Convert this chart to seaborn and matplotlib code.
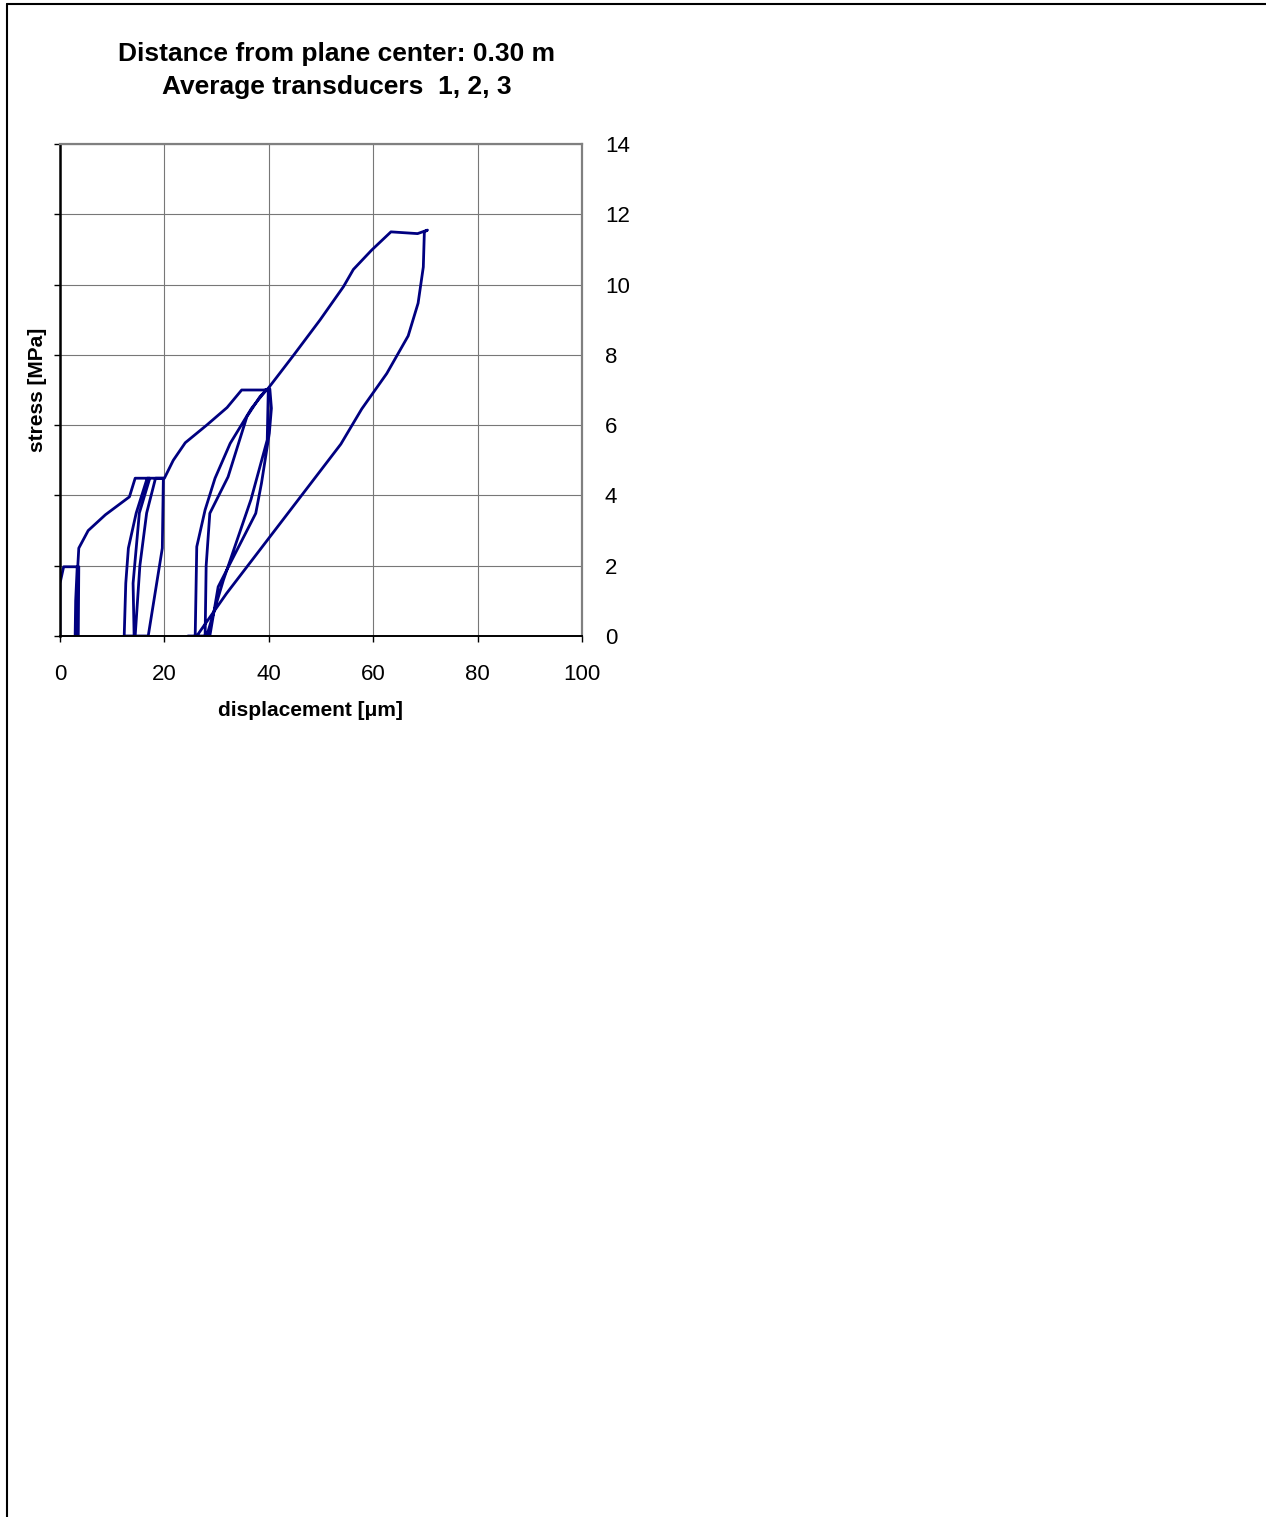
import pandas as pd
import numpy as np
import matplotlib.pyplot as plt
import seaborn as sns
from matplotlib.lines import Line2D

# Load/unload path (one continuous line)
displacement = [
    0.0, 0.0, 0.7, 3.4, 3.2, 2.9, 3.0, 3.3, 3.6, 3.5, 3.2, 3.4,
    3.6, 5.4, 8.7, 13.3, 14.4, 17.2,
    15.2, 14.0, 14.2, 12.3,
    12.6, 13.1, 14.6, 16.7, 19.8,
    19.6, 16.9, 14.4,
    15.3, 16.6, 18.3, 20.0,
    21.7, 24.0, 28.1, 32.0, 34.8, 39.0, 40.2,
    40.5, 40.1, 38.6, 37.5, 30.3, 28.7, 25.9,
    26.2, 27.8, 29.7, 32.6, 36.7, 39.5, 39.9,
    39.7, 36.6, 31.3, 28.1, 27.8,
    28.0, 28.7, 32.2, 35.8, 38.3, 39.9,
    44.7, 49.8, 54.3, 56.2, 59.7, 63.4, 68.5, 70.4,
    69.8, 69.6, 68.6, 66.7, 62.6, 57.8, 53.8, 31.9, 26.2, 24.5,
]
stress = [
    0.0, 1.5, 1.97, 1.97, 0.0, 0.0, 1.0, 1.97, 1.97, 0.0, 0.0, 1.97,
    2.5, 3.0, 3.45, 3.96, 4.49, 4.49,
    3.5, 1.5, 0.0, 0.0,
    1.5, 2.5, 3.5, 4.49, 4.49,
    2.5, 0.0, 0.0,
    2.0, 3.5, 4.49, 4.49,
    5.0, 5.5, 6.0, 6.5, 7.0, 7.0, 7.03,
    6.48, 5.77, 4.35, 3.49, 1.40, 0.0, 0.0,
    2.54, 3.59, 4.49, 5.48, 6.48, 7.0, 7.0,
    5.58, 3.89, 1.59, 0.0, 0.0,
    2.0, 3.49, 4.53, 6.24, 6.81, 7.05,
    7.98, 8.99, 9.94, 10.43, 10.98, 11.5, 11.45, 11.55,
    11.5, 10.5, 9.47, 8.54, 7.47, 6.46, 5.46, 1.21, 0.0, 0.0,
]

x_ticks = [0, 20, 40, 60, 80, 100]
y_ticks = [0, 2, 4, 6, 8, 10, 12, 14]

title_lines = ['Distance from plane center: 0.30 m', 'Average transducers  1, 2, 3']

sns.set_style('white')
plt.rcParams['font.family'] = ['Liberation Sans', 'DejaVu Sans']
plt.rcParams['text.color'] = 'black'
plt.rcParams['axes.labelcolor'] = 'black'
plt.rcParams['xtick.color'] = 'black'
plt.rcParams['ytick.color'] = 'black'

W, H = 1266, 1517
fig = plt.figure(figsize=(W / 100, H / 100), dpi=100)
ax = fig.add_axes([60 / W, 1 - 636 / H, 522 / W, 492 / H])

df = pd.DataFrame({'displacement': displacement, 'stress': stress})
sns.lineplot(data=df, x='displacement', y='stress', sort=False, estimator=None,
             color='#000080', lw=2, ax=ax)

ax.set_xlim(0, 100)
ax.set_ylim(0, 14)
ax.set_xticks(x_ticks)
ax.set_yticks(y_ticks)
ax.grid(True, color='#777777', lw=0.8)
ax.set_axisbelow(True)

for side in ['top', 'right']:
    ax.spines[side].set_color('#808080')
    ax.spines[side].set_linewidth(1.6)
ax.spines['left'].set_color('black')
ax.spines['left'].set_linewidth(1.8)
ax.spines['bottom'].set_color('black')
ax.spines['bottom'].set_linewidth(1.4)

ax.tick_params(axis='y', left=True, right=False, labelleft=False, labelright=True,
               length=4.5, width=1, direction='out', labelsize=16, pad=12)
ax.tick_params(axis='x', bottom=True, length=4, width=1, direction='out',
               labelsize=16, pad=16)

ax.set_xlabel('displacement [\u03bcm]', fontsize=15, fontweight='bold', labelpad=12)
ax.xaxis.label.set_x(0.479)
ax.set_ylabel('stress [MPa]', fontsize=15, fontweight='bold', labelpad=5)
ax.yaxis.set_label_position('left')

fig.text(336.5 / W, 1 - 54 / H, title_lines[0], ha='center', va='center',
         fontsize=19, fontweight='bold')
fig.text(336.5 / W, 1 - 87 / H, title_lines[1], ha='center', va='center',
         fontsize=19, fontweight='bold')

# outer frame (left and top edges visible)
fig.add_artist(Line2D([7 / W, 7 / W], [0, 1 - 4 / H], color='black', lw=1.5))
fig.add_artist(Line2D([7 / W, 1], [1 - 4 / H, 1 - 4 / H], color='black', lw=1.5))

fig.savefig('out.png', dpi=100)
